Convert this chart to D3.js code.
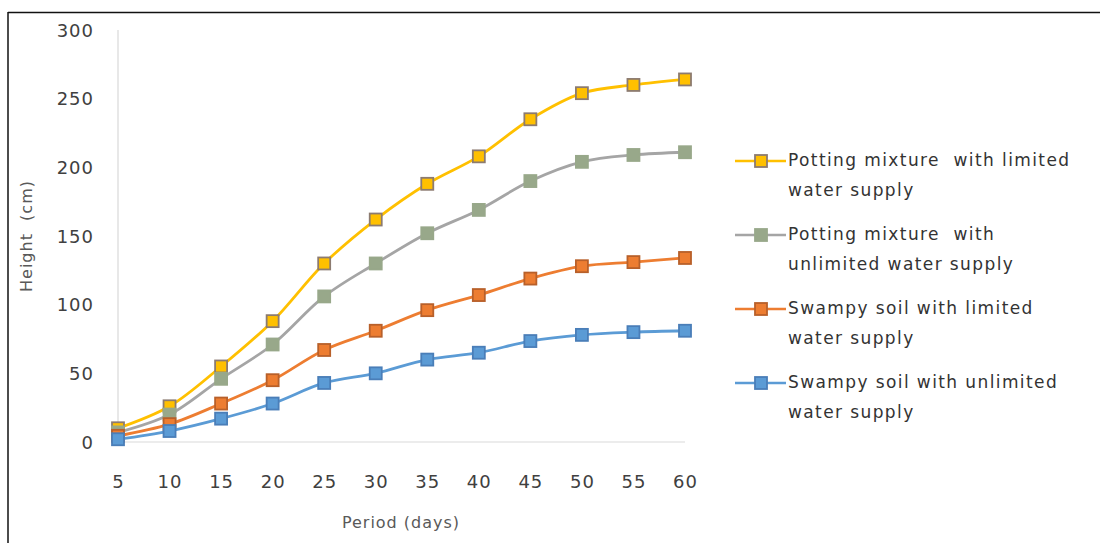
<!DOCTYPE html>
<html>
<head>
<meta charset="utf-8">
<script src="https://cdn.jsdelivr.net/npm/d3@7"></script>
<style>
  html, body { margin: 0; padding: 0; background: #fff; }
  svg { display: block; }
  text { font-family: "DejaVu Sans", Verdana, sans-serif; white-space: pre; }
</style>
</head>
<body>
<svg id="chart" width="1100" height="543"></svg>
<script>
// ---- data ----
const periods = [5, 10, 15, 20, 25, 30, 35, 40, 45, 50, 55, 60];
const yTicks = [0, 50, 100, 150, 200, 250, 300];
const pottingLimited   = [10, 26, 55, 88, 130, 162, 188, 208, 235, 254, 260, 264];
const pottingUnlimited = [7, 20, 46, 71, 106, 130, 152, 169, 190, 204, 209, 211];
const swampyLimited    = [4.5, 13, 28, 45, 67, 81, 96, 107, 119, 128, 131, 134];
const swampyUnlimited  = [2, 8, 17, 28, 43, 50, 60, 65, 73.5, 78, 80, 81];
const seriesNames = [
  ["Potting mixture  with limited", "water supply"],
  ["Potting mixture  with", "unlimited water supply"],
  ["Swampy soil with limited", "water supply"],
  ["Swampy soil with unlimited", "water supply"]
];
const xTitle = "Period (days)";
const yTitle = "Height  (cm)";

// ---- styles ----
const styles = [
  {line: "#FFC000", fill: "#FFC000", stroke: "#8C7B70"},
  {line: "#A5A5A5", fill: "#98A88A", stroke: "#98A88A"},
  {line: "#ED7D31", fill: "#ED7D31", stroke: "#B8602A"},
  {line: "#5B9BD5", fill: "#5B9BD5", stroke: "#4A7EB8"}
];
const seriesValues = [pottingLimited, pottingUnlimited, swampyLimited, swampyUnlimited];

const svg = d3.select("#chart");

// frame
svg.append("line").attr("x1", 8).attr("x2", 1100).attr("y1", 12.5).attr("y2", 12.5)
  .attr("stroke", "#111").attr("stroke-width", 1.5);
svg.append("line").attr("x1", 8).attr("x2", 8).attr("y1", 12).attr("y2", 543)
  .attr("stroke", "#111").attr("stroke-width", 1.5);

const x = d3.scaleLinear().domain([5, 60]).range([118, 685]);
const y = d3.scaleLinear().domain([0, 300]).range([442, 30]);

// axes lines
svg.append("line").attr("x1", x(5)).attr("x2", x(60)).attr("y1", y(0)).attr("y2", y(0))
  .attr("stroke", "#D9D9D9").attr("stroke-width", 1.2);
svg.append("line").attr("x1", x(5)).attr("x2", x(5)).attr("y1", y(0)).attr("y2", y(300))
  .attr("stroke", "#D9D9D9").attr("stroke-width", 1.2);

// y tick labels
const yAxis = d3.axisLeft(y).tickValues(yTicks).tickSize(0).tickPadding(0);
const gy = svg.append("g").attr("transform", "translate(94,0)").call(yAxis);
gy.select(".domain").remove();
gy.selectAll("text").attr("font-size", 18).attr("fill", "#404040").attr("letter-spacing", 1)
  .attr("font-family", "DejaVu Sans").attr("dy", "0.35em");

// x tick labels
const xAxis = d3.axisBottom(x).tickValues(periods).tickSize(0).tickPadding(0);
const gx = svg.append("g").attr("transform", "translate(0,482)").call(xAxis);
gx.select(".domain").remove();
gx.selectAll("text").attr("font-size", 18).attr("fill", "#404040").attr("letter-spacing", 1)
  .attr("font-family", "DejaVu Sans").attr("dy", "0.35em");

// axis titles
svg.append("text").attr("x", 401).attr("y", 523).attr("text-anchor", "middle")
  .attr("dominant-baseline", "middle").attr("font-size", 16).attr("letter-spacing", 1)
  .attr("fill", "#595959").text(xTitle);
svg.append("text").attr("transform", "translate(27,236) rotate(-90)").attr("text-anchor", "middle")
  .attr("dominant-baseline", "middle").attr("font-size", 16).attr("letter-spacing", 1)
  .attr("fill", "#595959").text(yTitle);

// lines
const lineGen = d3.line().x((d, i) => x(periods[i])).y(d => y(d)).curve(d3.curveCatmullRom.alpha(0.5));
const ms = 12;
seriesValues.forEach((vals, s) => {
  const g = svg.append("g");
  g.append("path").attr("d", lineGen(vals)).attr("fill", "none")
    .attr("stroke", styles[s].line).attr("stroke-width", 2.8);
  g.selectAll("rect").data(vals).enter().append("rect")
    .attr("x", (d, i) => x(periods[i]) - ms / 2)
    .attr("y", d => y(d) - ms / 2)
    .attr("width", ms).attr("height", ms)
    .attr("fill", styles[s].fill).attr("stroke", styles[s].stroke).attr("stroke-width", 1.8);
});

// legend
const legendY = [161, 235, 309, 383];
const lineGap = 30;
seriesNames.forEach((lines, s) => {
  const g = svg.append("g").attr("transform", `translate(0,${legendY[s]})`);
  g.append("line").attr("x1", 735).attr("x2", 786).attr("y1", 0).attr("y2", 0)
    .attr("stroke", styles[s].line).attr("stroke-width", 2.5);
  g.append("rect").attr("x", 761 - ms / 2).attr("y", -ms / 2).attr("width", ms).attr("height", ms)
    .attr("fill", styles[s].fill).attr("stroke", styles[s].stroke).attr("stroke-width", 1.8);
  lines.forEach((t, k) => {
    g.append("text").attr("x", 788).attr("y", k * lineGap).attr("dominant-baseline", "middle")
      .attr("font-size", 17).attr("letter-spacing", 1.4).attr("fill", "#333").text(t);
  });
});
</script>
</body>
</html>
